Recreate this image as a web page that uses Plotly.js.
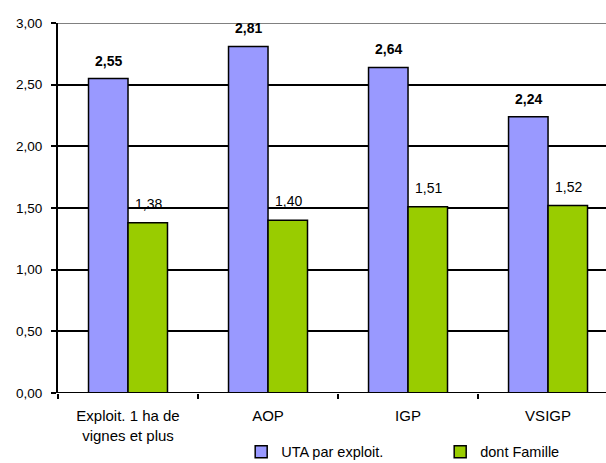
<!DOCTYPE html>
<html>
<head>
<meta charset="utf-8">
<script src="https://cdn.plot.ly/plotly-3.0.1.min.js"></script>
<style>html,body{margin:0;padding:0;background:#fff;}#chart{width:606px;height:463px;}</style>
</head>
<body>
<div id="chart"></div>
<script>
const categories = ["Exploit. 1 ha de<br>vignes et plus", "AOP", "IGP", "VSIGP"];
const utaParExploit = [2.55, 2.81, 2.64, 2.24];
const dontFamille = [1.38, 1.40, 1.51, 1.52];
const seriesNames = ["UTA par exploit.", "dont Famille"];
const yTickVals = [0, 0.5, 1, 1.5, 2, 2.5, 3];
const yTickText = ["0,00", "0,50", "1,00", "1,50", "2,00", "2,50", "3,00"];

const fmt = v => v.toFixed(2).replace('.', ',');
const font = "Liberation Sans, Arial, sans-serif";

const traces = [
  {type: 'bar', name: seriesNames[0], x: categories, y: utaParExploit,
   marker: {color: '#9999FF', line: {color: '#000000', width: 1.5}}, hoverinfo: 'none'},
  {type: 'bar', name: seriesNames[1], x: categories, y: dontFamille,
   marker: {color: '#99CC00', line: {color: '#000000', width: 1.5}}, hoverinfo: 'none'}
];

const annotations = [];
categories.forEach((c, i) => {
  annotations.push({x: c, y: utaParExploit[i], xref: 'x', yref: 'y', text: '<b>' + fmt(utaParExploit[i]) + '</b>',
    showarrow: false, xshift: -20, yshift: 8, yanchor: 'bottom', font: {family: font, size: 14, color: '#000'}});
  annotations.push({x: c, y: dontFamille[i], xref: 'x', yref: 'y', text: fmt(dontFamille[i]),
    showarrow: false, xshift: 20, yshift: 9, yanchor: 'bottom', font: {family: font, size: 14, color: '#000'}});
});

const layout = {
  width: 606, height: 463,
  margin: {l: 58, r: 0, t: 23, b: 70, pad: 0},
  paper_bgcolor: '#fff', plot_bgcolor: '#fff',
  barmode: 'group', bargap: 0.436, bargroupgap: 0,
  font: {family: font, size: 13, color: '#000'},
  xaxis: {
    type: 'category', range: [-0.5, 3.414], showgrid: false, zeroline: false,
    showline: false, ticks: 'outside', tickson: 'boundaries', ticklen: 5, tickwidth: 2, tickcolor: '#000',
    tickfont: {family: font, size: 15, color: '#000'}, ticklabelstandoff: 12
  },
  yaxis: {
    range: [0, 3], tickvals: yTickVals, ticktext: yTickText,
    showgrid: true, gridcolor: '#000', gridwidth: 2, zeroline: false,
    showline: true, linecolor: '#000', linewidth: 2,
    ticks: 'outside', ticklen: 5, tickwidth: 2, tickcolor: '#000',
    tickfont: {family: font, size: 13.5, color: '#000'}, ticklabelstandoff: 6
  },
  shapes: [
    {type: 'line', xref: 'paper', yref: 'y', x0: 0, x1: 1, y0: 3, y1: 3, line: {color: '#808080', width: 2}, layer: 'above'},
    {type: 'line', xref: 'paper', yref: 'y', x0: 0, x1: 1, y0: 0, y1: 0, line: {color: '#000', width: 2}, layer: 'above'}
  ],
  annotations: annotations,
  showlegend: true,
  legend: {orientation: 'h', xref: 'container', yref: 'container', x: 0.398, xanchor: 'left', y: 0.024, yanchor: 'middle',
    font: {family: font, size: 14.5, color: '#000'}, entrywidth: 154, entrywidthmode: 'pixels', bgcolor: 'rgba(0,0,0,0)'}
};

Plotly.newPlot('chart', traces, layout, {displayModeBar: false, staticPlot: true});
</script>
</body>
</html>
